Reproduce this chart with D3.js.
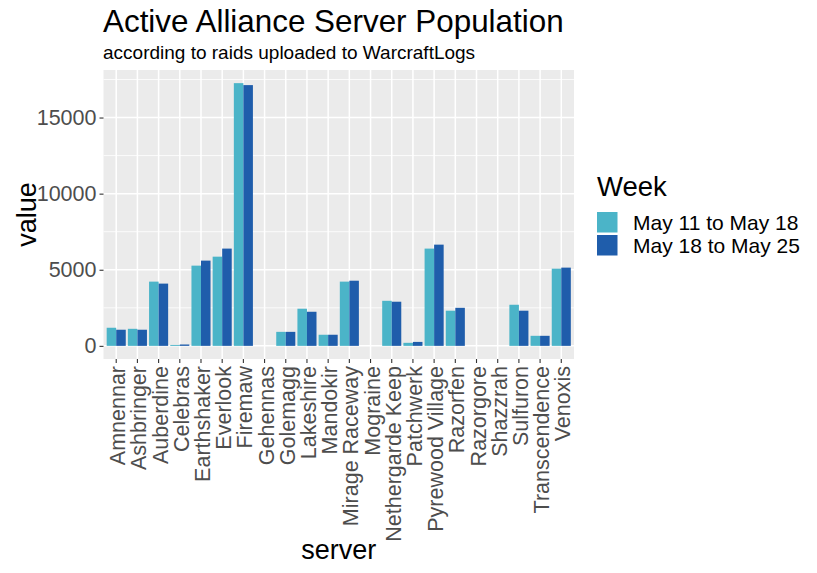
<!DOCTYPE html>
<html>
<head>
<meta charset="utf-8">
<script src="https://cdn.jsdelivr.net/npm/d3@7"></script>
<style>
  body { margin: 0; background: white; }
  text { font-family: "Liberation Sans", Arial, sans-serif; }
</style>
</head>
<body>
<div id="chart"></div>
<script>
// servers on the x axis
const servers = ["Amnennar", "Ashbringer", "Auberdine", "Celebras", "Earthshaker", "Everlook",
  "Firemaw", "Gehennas", "Golemagg", "Lakeshire", "Mandokir", "Mirage Raceway", "Mograine",
  "Nethergarde Keep", "Patchwerk", "Pyrewood Village", "Razorfen", "Razorgore", "Shazzrah",
  "Sulfuron", "Transcendence", "Venoxis"];

// the two weeks
const weeks = ["May 11 to May 18", "May 18 to May 25"];

// values
const week1 = [1190, 1120, 4220, 60, 5270, 5860, 17260, 0, 920, 2440, 730, 4220, 0,
  2960, 200, 6390, 2310, 0, 0, 2700, 660, 5070];
const week2 = [1060, 1060, 4090, 90, 5600, 6390, 17130, 0, 920, 2240, 730, 4280, 0,
  2900, 260, 6650, 2500, 0, 0, 2310, 660, 5140];

const yTicks = [0, 5000, 10000, 15000];
const yMinor = [2500, 7500, 12500, 17500];

const colors = ["#4BB4C8", "#1F5DAB"];

const W = 817, H = 573;
const panel = { left: 103.5, right: 574, top: 70, bottom: 359 };

const svg = d3.select("#chart").append("svg")
  .attr("width", W)
  .attr("height", H);

// table for the bars
const rows = [];
servers.forEach((s, i) => {
  rows.push({ server: s, week: weeks[0], value: week1[i] });
  rows.push({ server: s, week: weeks[1], value: week2[i] });
});

// scales (ggplot style expansion: 5% continuous, 0.6 discrete)
const maxV = d3.max(rows, d => d.value);
const yScale = d3.scaleLinear()
  .domain([-0.05 * maxV, maxV * 1.05])
  .range([panel.bottom, panel.top]);

const xScale = d3.scaleBand()
  .domain(servers)
  .range([panel.left, panel.right])
  .paddingInner(0.1)
  .paddingOuter(0.15);

const xSub = d3.scaleBand()
  .domain(weeks)
  .range([0, xScale.bandwidth()]);

const cScale = d3.scaleOrdinal().domain(weeks).range(colors);

// panel background
svg.append("rect")
  .attr("x", panel.left)
  .attr("y", panel.top)
  .attr("width", panel.right - panel.left)
  .attr("height", panel.bottom - panel.top)
  .attr("fill", "#EBEBEB");

// grid lines
svg.append("g").selectAll("line")
  .data(yMinor)
  .join("line")
  .attr("x1", panel.left).attr("x2", panel.right)
  .attr("y1", d => yScale(d)).attr("y2", d => yScale(d))
  .attr("stroke", "white").attr("stroke-width", 0.8);

svg.append("g").selectAll("line")
  .data(yTicks)
  .join("line")
  .attr("x1", panel.left).attr("x2", panel.right)
  .attr("y1", d => yScale(d)).attr("y2", d => yScale(d))
  .attr("stroke", "white").attr("stroke-width", 1.5);

svg.append("g").selectAll("line")
  .data(servers)
  .join("line")
  .attr("x1", d => xScale(d) + xScale.bandwidth() / 2)
  .attr("x2", d => xScale(d) + xScale.bandwidth() / 2)
  .attr("y1", panel.top).attr("y2", panel.bottom)
  .attr("stroke", "white").attr("stroke-width", 1.5);

// bars
svg.append("g").selectAll("rect")
  .data(rows)
  .join("rect")
  .attr("x", d => xScale(d.server) + xSub(d.week))
  .attr("width", xSub.bandwidth())
  .attr("y", d => yScale(Math.max(d.value, 0)))
  .attr("height", d => Math.abs(yScale(0) - yScale(d.value)))
  .attr("fill", d => cScale(d.week));

// y axis
const yAxis = svg.append("g")
  .attr("transform", `translate(${panel.left}, 0)`)
  .call(d3.axisLeft(yScale).tickValues(yTicks).tickSize(4).tickPadding(3).tickFormat(d3.format("d")));
yAxis.select(".domain").remove();
yAxis.selectAll(".tick line").attr("stroke", "#333333").attr("stroke-width", 1.1);
yAxis.selectAll(".tick text")
  .attr("fill", "#4D4D4D")
  .style("font-size", "21.5px")
  .style("font-family", "'Liberation Sans', Arial, sans-serif");

// x axis
const xAxis = svg.append("g")
  .attr("transform", `translate(0, ${panel.bottom})`)
  .call(d3.axisBottom(xScale).tickSize(4).tickPadding(3));
xAxis.select(".domain").remove();
xAxis.selectAll(".tick line").attr("stroke", "#333333").attr("stroke-width", 1.1);
xAxis.selectAll(".tick text")
  .attr("fill", "#4D4D4D")
  .style("font-size", "21.5px")
  .style("font-family", "'Liberation Sans', Arial, sans-serif")
  .attr("text-anchor", "end")
  .attr("transform", "translate(0, 7) rotate(-90)")
  .attr("x", 0)
  .attr("y", 0)
  .attr("dy", "0.42em");

// titles
svg.append("text")
  .attr("x", panel.left - 0.5)
  .attr("y", 32)
  .style("font-size", "31.4px")
  .attr("fill", "black")
  .text("Active Alliance Server Population");

svg.append("text")
  .attr("x", panel.left - 0.5)
  .attr("y", 59)
  .style("font-size", "19px")
  .attr("fill", "black")
  .text("according to raids uploaded to WarcraftLogs");

// axis titles
svg.append("text")
  .attr("x", (panel.left + panel.right) / 2)
  .attr("y", 559)
  .attr("text-anchor", "middle")
  .style("font-size", "27px")
  .text("server");

svg.append("text")
  .attr("transform", `translate(36, ${(panel.top + panel.bottom) / 2}) rotate(-90)`)
  .attr("text-anchor", "middle")
  .style("font-size", "27px")
  .text("value");

// legend
const legend = svg.append("g")
  .attr("transform", "translate(597, 0)");

legend.append("text")
  .attr("x", 0)
  .attr("y", 196)
  .style("font-size", "27.5px")
  .text("Week");

const item = legend.selectAll("g.item")
  .data(weeks)
  .join("g")
  .attr("class", "item")
  .attr("transform", (d, i) => `translate(0, ${212 + i * 23})`);

item.append("rect")
  .attr("width", 20.5)
  .attr("height", 20.5)
  .attr("fill", d => cScale(d));

item.append("text")
  .attr("x", 36)
  .attr("y", 10.5)
  .attr("dy", "0.35em")
  .style("font-size", "21px")
  .text(d => d);
</script>
</body>
</html>
